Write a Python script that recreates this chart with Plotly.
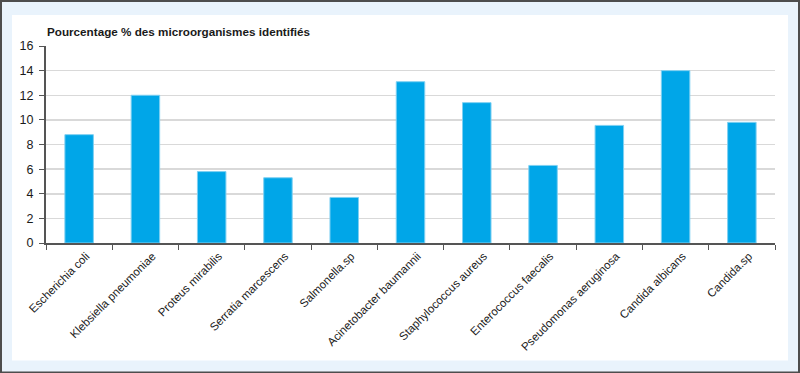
import plotly.graph_objects as go

categories = ["Escherichia coli", "Klebsiella pneumoniae", "Proteus mirabilis",
              "Serratia marcescens", "Salmonella.sp", "Acinetobacter baumannii",
              "Staphylococcus aureus", "Enterococcus faecalis", "Pseudomonas aeruginosa",
              "Candida albicans", "Candida.sp"]
values = [8.8, 12.0, 5.8, 5.3, 3.7, 13.1, 11.4, 6.3, 9.55, 14.0, 9.8]
y_ticks = [0, 2, 4, 6, 8, 10, 12, 14, 16]
title_text = "Pourcentage % des microorganismes identifiés"

W, H = 800, 373
L, R, T, B = 46, 775, 46, 242.7

def px_x(p):
    return (p - L) / (R - L)

def px_y(p):
    return (B - p) / (B - T)

fig = go.Figure(go.Bar(
    x=categories, y=values,
    marker=dict(color="#00a6e8", line=dict(color="#7fd0f2", width=1)),
    width=0.43,
    hoverinfo="skip",
))

font = "Liberation Sans, Arial, Helvetica, sans-serif"

fig.update_layout(
    width=W, height=H,
    margin=dict(l=L, r=W - R, t=T, b=H - B, pad=0, autoexpand=False),
    paper_bgcolor="#e9f3fc",
    plot_bgcolor="rgba(0,0,0,0)",
    showlegend=False,
    font=dict(family=font, size=12, color="#1a1a1a"),
    shapes=[
        dict(type="rect", xref="paper", yref="paper", layer="below",
             x0=px_x(1), x1=px_x(799), y0=px_y(372), y1=px_y(1),
             line=dict(color="#4d4d4d", width=2), fillcolor="#e9f3fc"),
        dict(type="rect", xref="paper", yref="paper", layer="below",
             x0=px_x(12), x1=px_x(788), y0=px_y(360), y1=px_y(15),
             line=dict(width=0), fillcolor="#ffffff"),
    ],
    annotations=[
        dict(text="<b>" + title_text + "</b>", xref="paper", yref="paper",
             x=px_x(45.5), y=px_y(32), xanchor="left", yanchor="middle",
             borderpad=0,
             showarrow=False, font=dict(size=11.7, color="#1a1a1a", family=font)),
    ],
)

fig.update_xaxes(
    type="category",
    tickangle=-45,
    tickson="boundaries",
    ticks="outside", ticklen=5, tickcolor="#555555", tickwidth=1,
    showline=True, linecolor="#555555", linewidth=2,
    showgrid=False,
    automargin=False,
    ticklabelshift=7,
    tickfont=dict(size=11.5, family=font, color="#1a1a1a"),
    range=[-0.5, len(categories) - 0.5],
)
fig.update_yaxes(
    range=[0, 16],
    tickvals=y_ticks,
    ticks="outside", ticklen=5, tickcolor="#555555", tickwidth=1,
    showline=True, linecolor="#555555", linewidth=2,
    showgrid=True, gridcolor="#d9d9d9", gridwidth=1.5,
    zeroline=False,
    automargin=False,
    ticklabelstandoff=3,
    tickfont=dict(size=12.5, family=font, color="#1a1a1a"),
)

fig.write_html("out.html",
               config={"displayModeBar": False, "staticPlot": True},
               post_script="document.body.style.margin='0';document.body.style.overflow='hidden';")
